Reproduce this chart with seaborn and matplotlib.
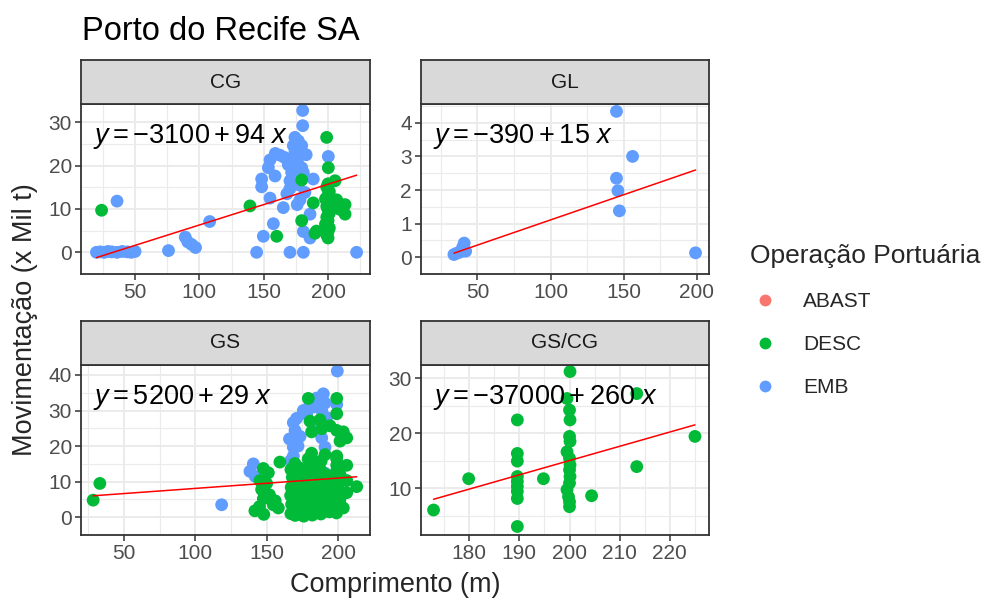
import matplotlib
matplotlib.use("Agg")
import matplotlib.pyplot as plt
import seaborn as sns
import pandas as pd
import numpy as np
from matplotlib.lines import Line2D

# ---------------- data ----------------
operacoes = ["ABAST", "DESC", "EMB"]
cores = ["#F8766D", "#00BA38", "#619CFF"]
paineis = ["CG", "GL", "GS", "GS/CG"]

# CG
cg_emb_x = [20, 23, 26, 29, 32, 36, 40, 44, 47, 50, 36, 76, 89, 91, 94, 97, 108,
            180.3, 180.3, 174.3, 173, 162.6, 154.9, 153.6, 158.8, 148.4, 148.4, 170.4,
            170.4, 171.7, 169.1, 176.9, 179.5, 178.2, 179.5, 176.9, 174.3, 180.8, 188.5,
            154.9, 165.2, 178.2, 186, 157.5, 180.8, 149.7, 186, 144.5, 170.4, 180.8, 222.2,
            200.2, 159, 166, 183, 172, 177, 182, 176, 168]
cg_emb_y = [0, 0.1, 0, 0.2, 0.1, 0, 0.2, 0.1, 0, 0.2, 11.8, 0.4, 3.5, 2.4, 1.8, 1.1, 7.1,
            32.7, 29.2, 26.5, 24.6, 22.4, 21.3, 19.5, 17.6, 16.9, 15.1, 14.7,
            16.5, 18.4, 20.2, 20.2, 19.5, 22.4, 24.6, 25.7, 23.2, 18.4, 16.9,
            12.5, 10.3, 12.1, 8.8, 6.6, 4.8, 3.7, 3.3, 0, 0, 0, 0,
            22.1, 22.8, 21.9, 22.5, 21.6, 15.6, 13.8, 11.0, 13.5]
cg_desc_x = [24, 139.3, 160.1, 179.5, 179.5, 188.5, 189.8, 198.9, 200.2, 205.4, 206.7,
             209.3, 213.2, 213.2, 191, 200, 199, 201, 200, 198, 202, 199, 200, 201, 199,
             200, 198, 201, 200, 199, 200]
cg_desc_y = [9.7, 10.7, 3.7, 16.7, 7.3, 11.4, 4.4, 26.5, 19.5, 16.5, 12.1,
             9.9, 11.0, 8.8, 4.9, 15.8, 15.0, 14.0, 13.2, 12.3, 11.5, 10.6, 9.8, 9.0, 8.1,
             7.3, 6.5, 5.6, 4.8, 4.0, 3.3]

# GL
gl_emb_x = [34, 36, 38, 40, 41, 42, 145, 145, 146, 147, 156, 199]
gl_emb_y = [0.08, 0.12, 0.15, 0.3, 0.42, 0.18, 4.34, 2.35, 1.98, 1.38, 3.0, 0.13]

# GS
gs_emb_x = [118.5, 199.5, 189.7, 190.9, 180.4, 175.7, 171, 168.7, 169.9, 173.4, 168.7,
            168.7, 188.6, 190.9, 199.1, 140.7, 138.3, 180.4, 190.9, 174.5, 188.6, 185,
            178, 192, 166, 172, 186, 183, 142, 167, 190, 178]
gs_emb_y = [3.5, 41.1, 34.7, 32.1, 31.7, 30.0, 27.8, 26.6, 24.4, 22.7, 19.7,
            17.2, 22.3, 19.7, 31.7, 15.0, 12.9, 14.6, 12.4, 0.6, 30.0, 33.5,
            29, 28, 22, 20, 25.5, 31, 11.5, 16, 10, 12.5]
gs_desc_x = [28.5, 33.2, 179.2, 199.1, 199.1, 187.4, 180.4, 194.4, 199.1, 203.7, 206.1,
             201.4, 188.6, 181.5, 190.9, 199.1, 181.5, 180.4, 159.3, 147.7, 151.2, 145.3,
             199.1, 206.1, 201.4, 206.1, 213.1, 206.1, 203.7, 141.8, 154.7, 158.2, 147.7,
             146.5, 145, 150, 148, 152, 156,
             167, 167.5, 166.8, 167.2, 168, 167,
             170, 170.4, 169.6, 170.2, 170, 170.8, 169.8,
             173, 173.3, 172.6, 173.1, 173.5, 172.8,
             176, 176.4, 175.7, 176.2, 176, 175.8,
             179, 179.2, 178.7, 179.4, 179, 178.8, 179.1,
             182, 182.3, 181.7, 182.1, 182.4, 181.9,
             185, 185.2, 184.7, 185.3, 184.9, 185.1,
             188, 188.3, 187.8, 188.1, 188.4, 187.7, 188.2,
             191, 191.2, 190.7, 191.3, 190.9,
             194, 194.3, 193.8, 194.1, 194.2,
             199, 199.3, 198.8, 199.2, 199.1, 198.9, 199,
             201, 201.3, 200.8]
gs_desc_y = [4.8, 9.5, 33.4, 33.4, 29.1, 27.4, 27.0, 25.7, 24.4, 24.0, 22.3,
             21.4, 24.9, 24.0, 17.6, 17.2, 18.0, 16.3, 15.5, 13.7, 12.5, 10.3,
             14.6, 14.6, 12.0, 10.3, 8.6, 6.9, 2.6, 1.8, 3.5, 2.6, 5.2,
             7.8, 3.0, 9.5, 0.8, 6.3, 4.6,
             1.0, 3.6, 6.1, 8.4, 11.2, 13.4,
             0.5, 2.4, 5.1, 7.6, 9.9, 12.6, 15.1,
             1.6, 4.1, 6.4, 9.1, 11.6, 13.9,
             0.3, 2.9, 5.2, 7.9, 10.2, 12.8,
             1.2, 3.8, 6.1, 8.8, 11.1, 13.6, 16.4,
             0.6, 3.2, 5.5, 8.2, 10.7, 13.0,
             1.9, 4.2, 6.9, 9.2, 11.9, 14.2,
             0.9, 3.5, 5.8, 8.5, 10.8, 13.3, 15.8,
             2.3, 4.6, 7.3, 9.6, 12.1,
             1.5, 3.8, 6.5, 8.8, 11.3,
             1.2, 3.4, 6.1, 8.4, 10.9, 12.9, 16.5,
             2.6, 4.9, 7.6]

# GS/CG
gscg_desc_x = [172.9, 179.9, 189.6, 189.6, 189.6, 189.6, 189.6, 189.6, 189.6, 189.6, 189.6,
               194.8, 200.1, 199.5, 200, 200.1, 200, 200.1, 199.5, 200, 200.1, 200, 200.1,
               200, 199.5, 199.8, 200, 200, 204.4, 213.4, 213.4, 225.0]
gscg_desc_y = [6.0, 11.7, 22.4, 16.3, 14.9, 12.1, 11.2, 10.3, 9.4, 8.1, 3.0,
               11.7, 31.2, 26.3, 24.2, 22.4, 19.4, 18.5, 16.6, 15.4, 14.2, 13.3, 12.1,
               10.9, 9.7, 8.4, 7.5, 6.6, 8.6, 27.2, 13.9, 19.4]

# regression coefficients shown in the labels (t vs m)
interceptos = [-3100, -390, 5200, -37000]
inclinacoes = [94, 15, 29, 260]

titulo = "Porto do Recife SA"
rotulo_x = "Comprimento (m)"
rotulo_y = "Movimentação (x Mil t)"
titulo_legenda = "Operação Portuária"

# ---------------- build table ----------------
def bloco(painel, xs, ys, op):
    return pd.DataFrame({"Painel": painel, "Comprimento": xs, "Movimentacao": ys, "Operacao": op})

df = pd.concat([
    bloco("CG", cg_emb_x, cg_emb_y, "EMB"),
    bloco("CG", cg_desc_x, cg_desc_y, "DESC"),
    bloco("GL", gl_emb_x, gl_emb_y, "EMB"),
    bloco("GS", gs_emb_x, gs_emb_y, "EMB"),
    bloco("GS", gs_desc_x, gs_desc_y, "DESC"),
    bloco("GS/CG", gscg_desc_x, gscg_desc_y, "DESC"),
], ignore_index=True)

# ---------------- style ----------------
sns.set_style("white")
plt.rcParams["font.family"] = ["Liberation Sans", "DejaVu Sans"]
plt.rcParams["mathtext.fontset"] = "custom"
plt.rcParams["mathtext.rm"] = "Liberation Sans"
plt.rcParams["mathtext.it"] = "Liberation Sans:italic"

W, H = 986, 601
fig = plt.figure(figsize=(W / 100, H / 100), dpi=100)

pal = dict(zip(operacoes, cores))
bboxes = {  # left, top, right, bottom in pixels
    "CG": (81, 104, 370, 274),
    "GL": (421, 104, 709, 274),
    "GS": (81, 365, 370, 535),
    "GS/CG": (421, 365, 709, 535),
}
limites = {
    "CG": ((8, 232.6), (-3.3, 34.2)),
    "GL": ((11.5, 208.2), (-0.17, 4.56)),
    "GS": ((20, 222.4), (-0.8, 42.8)),
    "GS/CG": ((170.4, 227.8), (1.45, 32.4)),
}
ticks = {
    "CG": ([50, 100, 150, 200], [0, 10, 20, 30]),
    "GL": ([50, 100, 150, 200], [0, 1, 2, 3, 4]),
    "GS": ([50, 100, 150, 200], [0, 10, 20, 30, 40]),
    "GS/CG": ([180, 190, 200, 210, 220], [10, 20, 30]),
}
strip_h = 44
grey20 = "#333333"

for i, p in enumerate(paineis):
    l, t, r, b = bboxes[p]
    ax = fig.add_axes([l / W, 1 - b / H, (r - l) / W, (b - t) / H])
    sub = df[df["Painel"] == p]
    sns.scatterplot(data=sub, x="Comprimento", y="Movimentacao", hue="Operacao",
                    palette=pal, hue_order=operacoes, s=85, linewidth=0, alpha=1,
                    ax=ax, legend=False, zorder=3)
    xs = np.array([sub["Comprimento"].min(), sub["Comprimento"].max()])
    ys = (interceptos[i] + inclinacoes[i] * xs) / 1000.0
    ax.plot(xs, ys, color="red", lw=1.1, zorder=4)

    (x0, x1), (y0, y1) = limites[p]
    ax.set_xlim(x0, x1)
    ax.set_ylim(y0, y1)
    xt, yt = ticks[p]
    ax.set_xticks(xt)
    ax.set_yticks(yt)
    dx = xt[1] - xt[0]
    dy = yt[1] - yt[0]
    ax.set_xticks(np.arange(xt[0] - dx / 2, x1, dx), minor=True)
    ax.set_yticks(np.arange(yt[0] - dy / 2, y1, dy), minor=True)
    ax.set_xticklabels([str(v) for v in xt])
    ax.set_yticklabels([str(v) for v in yt])
    ax.grid(which="major", color="#EBEBEB", lw=1.4, zorder=0)
    ax.grid(which="minor", color="#EBEBEB", lw=0.8, zorder=0)
    ax.set_axisbelow(True)
    ax.tick_params(which="major", direction="out", length=4, width=1.1, color=grey20,
                   labelsize=15, labelcolor="#4D4D4D", pad=2.5,
                   bottom=True, left=True)
    ax.tick_params(which="minor", length=0)
    for s in ax.spines.values():
        s.set_color(grey20)
        s.set_linewidth(1.3)
    ax.set_xlabel("")
    ax.set_ylabel("")

    a, bcoef = interceptos[i], inclinacoes[i]
    label = r"$y = %d + %d\ x$" % (a, bcoef)
    ax.text(0.04, 0.81, label, transform=ax.transAxes, fontsize=19.5, color="black",
            ha="left", va="center", zorder=5)

    # strip
    sax = fig.add_axes([l / W, 1 - t / H, (r - l) / W, strip_h / H])
    sax.set_facecolor("#D9D9D9")
    sax.set_xticks([])
    sax.set_yticks([])
    for s in sax.spines.values():
        s.set_color(grey20)
        s.set_linewidth(1.3)
    sax.text(0.5, 0.5, p, ha="center", va="center", fontsize=15, color="#1A1A1A",
             transform=sax.transAxes)

fig.text(82 / W, 1 - 31 / H, titulo, fontsize=23.5, ha="left", va="center", color="black")
fig.text(395 / W, 1 - 585 / H, rotulo_x, fontsize=19.5, ha="center", va="center")
fig.text(25 / W, 1 - 320 / H, rotulo_y, fontsize=19.5, ha="center", va="center", rotation=90)

handles = [Line2D([0], [0], marker="o", ls="", markersize=8.5, markerfacecolor=c,
                  markeredgewidth=0) for c in cores]
leg = fig.legend(handles, operacoes, title=titulo_legenda, loc="upper left",
                 bbox_to_anchor=(750 / W, 1 - 244 / H), frameon=False,
                 fontsize=15, title_fontsize=19, handlelength=1.44, handletextpad=1.1,
                 labelspacing=1.16, borderpad=0, borderaxespad=0, alignment="left")

fig.savefig("out.png", dpi=100)
